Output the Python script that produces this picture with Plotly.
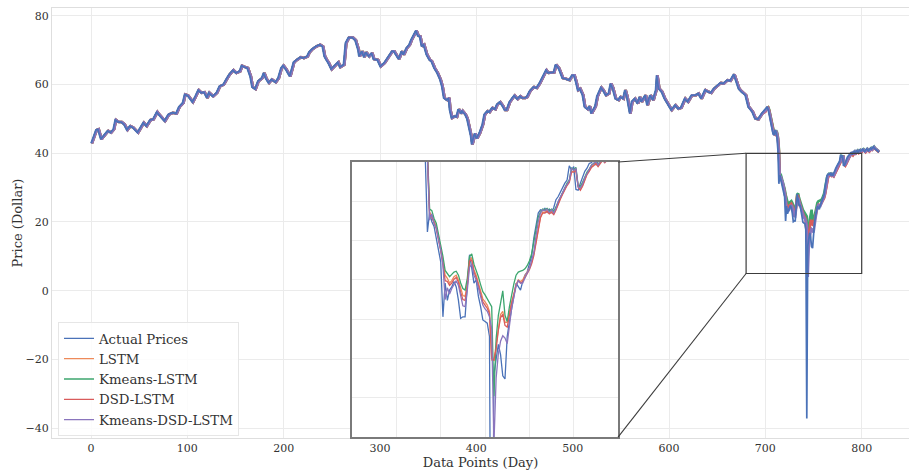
import plotly.graph_objects as go

# ---- observed daily prices before the zoomed window (day, price) ----
hist_days = [0, 2, 5, 7, 9, 10, 14, 17, 20, 23, 25, 28, 31, 34, 37, 40, 43, 48, 50, 54,
             57, 61, 64, 68, 69, 73, 76, 80, 84, 88, 91, 95, 97, 100, 102, 105, 108, 111, 114, 117,
             120, 122, 126, 130, 133, 137, 140, 143, 147, 150, 154, 156, 159, 162, 165, 167, 170, 173, 177, 179,
             181, 184, 187, 191, 194, 197, 199, 202, 206, 210, 213, 217, 220, 224, 226, 229, 233, 237, 240, 242,
             244, 246, 249, 252, 256, 258, 262, 264, 267, 271, 274, 277, 278, 281, 283, 285, 288, 291, 293, 297,
             300, 304, 307, 312, 314, 316, 319, 322, 324, 327, 330, 332, 335, 337, 339, 341, 343, 345, 348, 351,
             353, 356, 359, 362, 364, 366, 369, 371, 372, 374, 377, 379, 381, 384, 385, 388, 390, 392, 394, 395,
             398, 400, 403, 406, 408, 411, 413, 416, 419, 421, 424, 427, 429, 431, 434, 437, 439, 442, 445, 447,
             450, 452, 455, 459, 462, 465, 467, 470, 472, 474, 477, 480, 482, 485, 487, 489, 492, 496, 499, 501,
             503, 505, 507, 510, 512, 515, 517, 519, 523, 525, 529, 531, 534, 537, 539, 541, 544, 547, 549, 552,
             554, 556, 559, 561, 564, 567, 569, 571, 575, 577, 580, 583, 586, 587, 589, 592, 595, 599, 602, 606,
             609, 612, 616, 619, 623, 627, 630, 633, 637, 640, 643, 646, 649, 653, 656, 660, 663, 667, 669, 672,
             675, 679, 682, 686, 689, 692, 696]
hist_prices = [42.9, 44.6, 46.8, 47.0, 44.8, 44.1, 45.5, 46.5, 46.0, 47.0, 49.7, 49.1, 49.1, 48.4, 46.8, 47.9, 47.5, 46.0, 47.0, 48.9,
               47.9, 49.7, 49.9, 52.0, 51.6, 50.3, 49.4, 51.3, 51.8, 51.6, 53.5, 54.7, 57.1, 56.8, 56.1, 54.9, 56.6, 58.4, 57.6, 57.8,
               56.1, 57.6, 56.6, 57.6, 59.5, 60.0, 61.5, 62.9, 64.2, 63.4, 63.9, 65.5, 65.1, 64.8, 62.4, 59.3, 58.7, 61.0, 61.9, 63.4,
               61.9, 60.5, 61.5, 60.7, 61.9, 64.8, 65.5, 64.4, 62.4, 66.5, 67.2, 68.0, 67.7, 68.2, 69.4, 70.3, 71.1, 71.6, 71.1, 68.2,
               67.2, 66.3, 64.5, 65.3, 66.5, 65.1, 65.8, 72.1, 73.7, 73.7, 72.9, 70.1, 68.2, 69.7, 68.0, 69.4, 68.2, 69.2, 67.4, 67.2,
               65.3, 66.3, 67.7, 69.7, 69.7, 68.7, 67.4, 69.7, 68.7, 70.6, 71.6, 73.0, 74.5, 75.7, 74.2, 74.0, 71.1, 71.6, 68.7, 67.2,
               66.8, 64.8, 63.4, 61.5, 59.5, 56.1, 55.5, 56.1, 52.8, 50.3, 50.8, 50.6, 52.8, 51.6, 52.3, 51.3, 50.1, 47.9, 45.0, 42.6,
               45.8, 44.3, 46.0, 48.4, 51.3, 52.3, 52.0, 53.2, 52.8, 54.2, 54.9, 53.7, 52.6, 52.6, 54.9, 56.1, 56.8, 55.8, 56.6, 56.1,
               56.1, 56.4, 58.1, 59.3, 59.0, 60.3, 61.5, 62.9, 64.2, 63.4, 63.6, 63.6, 65.8, 64.8, 63.4, 61.9, 61.7, 61.3, 62.7, 62.7,
               60.8, 58.4, 58.8, 56.9, 53.5, 52.8, 53.7, 51.6, 53.7, 56.6, 59.1, 58.4, 56.9, 57.4, 60.3, 59.1, 55.9, 55.5, 56.4, 55.9,
               58.4, 56.4, 51.6, 55.0, 55.9, 54.5, 56.4, 55.0, 56.9, 54.0, 56.9, 55.5, 58.4, 62.7, 58.8, 57.9, 55.9, 54.0, 52.6, 54.0,
               53.0, 53.3, 55.9, 55.0, 56.9, 56.9, 57.4, 55.9, 58.4, 57.9, 57.6, 58.8, 59.5, 60.5, 60.3, 61.3, 61.1, 63.0, 61.3, 58.8,
               57.9, 56.9, 53.5, 52.1, 50.1, 49.9, 51.6]

# ---- zoomed window, one value per day ----
window_days = list(range(700, 819))
actual_window = [52.8, 53.3, 53.5, 52.6, 51.2, 49.6, 47.4, 46.5, 45.6, 45.3,
                 46.8, 46.1, 44.6, 41.0, 31.1, 33.6, 32.4, 31.8, 30.3, 29.0,
                 27.3, 20.3, 24.6, 22.4, 23.7, 24.1, 24.8, 24.1, 22.4, 20.1,
                 20.3, 20.3, 24.6, 28.2, 26.5, 24.6, 25.0, 22.9, 21.6, 19.9,
                 19.7, 19.5, 17.8, -37.2, 13.0, 15.0, 16.8, 15.5, 12.8, 12.4,
                 17.8, 19.7, 21.6, 22.9, 24.6, 24.1, 23.7, 24.8, 25.6, 26.0,
                 26.9, 28.0, 30.3, 32.2, 33.5, 33.9, 33.8, 34.1, 33.6, 34.0,
                 33.5, 34.2, 35.2, 35.6, 36.2, 36.8, 37.3, 37.7, 39.5, 39.0,
                 39.4, 36.5, 36.4, 37.3, 38.1, 38.8, 39.2, 39.8, 39.9, 40.3,
                 39.6, 40.2, 40.6, 40.1, 40.5, 40.8, 40.3, 40.7, 41.0, 40.6,
                 40.9, 41.2, 40.8, 40.5, 40.9, 41.3, 41.0, 40.7, 41.1, 41.5,
                 41.2, 41.6, 41.9, 41.5, 41.3, 41.0, 40.8, 40.5, 40.3]
lstm_window = [52.2, 52.8, 53.2, 53.3, 52.5, 51.2, 49.6, 47.6, 46.6, 45.8,
               45.5, 46.5, 46.0, 44.6, 41.2, 33.5, 33.2, 32.4, 31.8, 30.4,
               29.1, 27.4, 25.6, 25.2, 24.6, 24.9, 25.4, 25.6, 25.0, 23.8,
               23.0, 22.9, 24.5, 27.6, 27.8, 26.3, 25.6, 24.6, 23.6, 22.6,
               22.2, 21.8, 21.0, 14.8, 14.8, 16.8, 19.0, 20.6, 21.0, 19.6,
               19.6, 21.0, 22.2, 23.2, 24.4, 25.0, 24.8, 25.0, 25.6, 26.0,
               26.5, 27.2, 28.3, 30.0, 31.8, 33.0, 33.6, 33.6, 33.8, 33.5,
               33.7, 33.4, 34.0, 34.8, 35.4, 36.0, 36.6, 37.1, 37.5, 38.8,
               38.8, 39.0, 36.9, 36.5, 37.0, 37.8, 38.5, 38.9, 39.4, 39.6,
               39.9, 39.5, 39.9, 40.3, 40.0, 40.3, 40.6, 40.2, 40.5, 40.8,
               40.5, 40.7, 41.0, 40.7, 40.4, 40.7, 41.1, 40.9, 40.6, 40.9,
               41.3, 41.1, 41.4, 41.7, 41.4, 41.2, 40.9, 40.7, 40.4]
kmeans_lstm_window = [52.4, 52.9, 53.3, 53.4, 52.7, 51.4, 49.9, 47.9, 46.9, 46.1,
                      45.8, 46.7, 46.2, 44.9, 41.6, 34.0, 33.8, 32.8, 32.2, 30.9,
                      29.6, 28.0, 26.2, 25.8, 25.4, 25.7, 26.0, 26.1, 25.6, 24.6,
                      23.9, 23.7, 25.2, 28.0, 28.3, 27.0, 26.3, 25.4, 24.4, 23.5,
                      23.1, 22.6, 22.2, 21.6, 10.2, 17.5, 20.5, 22.0, 23.6, 20.5,
                      19.7, 21.6, 23.2, 24.5, 25.6, 26.0, 26.1, 26.2, 26.4, 26.8,
                      27.4, 28.3, 29.8, 31.6, 33.0, 33.6, 34.0, 33.9, 34.1, 33.8,
                      34.0, 33.7, 34.3, 35.1, 35.6, 36.2, 36.8, 37.3, 37.7, 39.2,
                      39.0, 39.3, 37.0, 36.9, 37.4, 38.1, 38.7, 39.1, 39.6, 39.8,
                      40.1, 39.7, 40.1, 40.5, 40.1, 40.5, 40.8, 40.4, 40.7, 41.0,
                      40.7, 40.9, 41.2, 40.9, 40.6, 40.9, 41.3, 41.0, 40.8, 41.1,
                      41.5, 41.2, 41.6, 41.9, 41.5, 41.3, 41.0, 40.8, 40.5]
dsd_lstm_window = [52.1, 52.7, 53.1, 53.2, 52.4, 51.0, 49.4, 47.4, 46.4, 45.6,
                   45.4, 46.4, 45.8, 44.3, 40.8, 33.1, 33.0, 32.2, 31.5, 30.1,
                   28.8, 27.0, 24.9, 24.8, 24.3, 24.6, 25.1, 25.3, 24.7, 23.4,
                   22.5, 22.4, 24.2, 27.4, 27.5, 26.0, 25.3, 24.3, 23.3, 22.2,
                   21.8, 21.4, 20.7, 15.0, 14.8, 16.2, 18.6, 20.2, 20.6, 19.2,
                   19.0, 20.6, 22.0, 23.1, 24.3, 24.9, 24.6, 24.8, 25.4, 25.8,
                   26.3, 27.0, 28.1, 29.8, 31.6, 32.9, 33.5, 33.5, 33.7, 33.4,
                   33.6, 33.3, 33.9, 34.7, 35.3, 35.9, 36.5, 37.0, 37.4, 38.7,
                   38.7, 38.9, 36.8, 36.4, 36.9, 37.7, 38.4, 38.8, 39.3, 39.5,
                   39.8, 39.4, 39.8, 40.2, 39.9, 40.2, 40.5, 40.1, 40.4, 40.7,
                   40.4, 40.6, 40.9, 40.6, 40.3, 40.6, 41.0, 40.8, 40.5, 40.8,
                   41.2, 41.0, 41.3, 41.6, 41.3, 41.1, 40.8, 40.6, 40.3]
kmeans_dsd_lstm_window = [52.3, 52.9, 53.3, 53.2, 52.3, 51.0, 49.3, 47.4, 46.4, 45.7,
                          45.6, 46.6, 45.9, 44.3, 40.5, 32.6, 33.4, 32.2, 31.6, 30.2,
                          28.8, 26.9, 22.5, 24.0, 23.2, 23.9, 24.5, 24.9, 24.3, 22.8,
                          21.7, 21.6, 23.7, 26.6, 27.0, 25.6, 25.0, 24.0, 22.9, 21.8,
                          21.3, 21.0, 20.3, 18.8, 4.0, 12.5, 15.6, 17.2, 17.9, 17.6,
                          16.9, 19.4, 21.4, 22.8, 24.2, 24.9, 24.6, 24.6, 25.3, 25.9,
                          26.4, 27.4, 28.5, 30.6, 32.4, 33.5, 33.9, 33.8, 34.0, 33.6,
                          33.9, 33.5, 34.1, 35.0, 35.5, 36.1, 36.7, 37.2, 37.6, 39.2,
                          38.9, 39.2, 36.8, 36.7, 37.2, 38.0, 38.6, 39.0, 39.6, 39.8,
                          40.1, 39.6, 40.1, 40.5, 40.0, 40.4, 40.7, 40.3, 40.6, 40.9,
                          40.6, 40.8, 41.1, 40.8, 40.5, 40.8, 41.2, 40.9, 40.7, 41.0,
                          41.4, 41.1, 41.5, 41.8, 41.5, 41.2, 41.0, 40.7, 40.5]

series_names = ["Actual Prices", "LSTM", "Kmeans-LSTM", "DSD-LSTM", "Kmeans-DSD-LSTM"]
series_colors = ["#4A72B8", "#EE8A5A", "#3DA66E", "#D95B5B", "#8A75BD"]
x_ticks = [0, 100, 200, 300, 400, 500, 600, 700, 800]
y_ticks = [-40, -20, 0, 20, 40, 60, 80]

FONT = "DejaVu Serif"
X_RANGE = [-40.5, 849.1]
Y_RANGE = [-42.9, 82.3]
ZOOM_X = [680, 800]
ZOOM_Y = [5, 40]
INSET_DOM_X = [0.3501, 0.6605]
INSET_DOM_Y = [0.002, 0.642]

window_sets = [actual_window, lstm_window, kmeans_lstm_window, dsd_lstm_window, kmeans_dsd_lstm_window]

fig = go.Figure()

# main panel: forecasts underneath, observed prices drawn over them
for name, color, win in list(zip(series_names, series_colors, window_sets))[1:]:
    # forecasts trail the observed price by one trading day
    xs = [d + 1 for d in hist_days] + window_days
    fig.add_trace(go.Scatter(x=xs, y=hist_prices + win, mode="lines", name=name,
                             line=dict(color=color, width=2.6), showlegend=False,
                             xaxis="x", yaxis="y"))
fig.add_trace(go.Scatter(x=hist_days + window_days, y=hist_prices + actual_window, mode="lines",
                         name=series_names[0], line=dict(color=series_colors[0], width=1.7),
                         showlegend=False, xaxis="x", yaxis="y"))

# inset panel (also supplies the legend entries)
for name, color, win in zip(series_names, series_colors, window_sets):
    fig.add_trace(go.Scatter(x=window_days, y=win, mode="lines", name=name,
                             line=dict(color=color, width=1.3),
                             showlegend=True, xaxis="x2", yaxis="y2"))

grid = "#ebebeb"
frame = "#dedede"

fig.update_layout(
    width=909, height=470,
    margin=dict(l=52, r=0, t=8, b=32),
    paper_bgcolor="white", plot_bgcolor="white",
    font=dict(family=FONT, size=11, color="#333333"),
    showlegend=True,
    xaxis=dict(range=X_RANGE, tickvals=x_ticks, showgrid=True, gridcolor=grid, gridwidth=1,
               zeroline=False, showline=True, mirror=True, linecolor=frame, linewidth=1,
               ticks="", automargin=False,
               title=dict(text="Data Points (Day)", font=dict(size=13, family=FONT), standoff=2)),
    yaxis=dict(range=Y_RANGE, tickvals=y_ticks, showgrid=True, gridcolor=grid, gridwidth=1,
               zeroline=False, showline=True, mirror=True, linecolor=frame, linewidth=1,
               ticks="", automargin=False,
               title=dict(text="Price (Dollar)", font=dict(size=13, family=FONT), standoff=0)),
    xaxis2=dict(domain=INSET_DOM_X, anchor="y2", range=ZOOM_X, tickvals=[700, 720, 740, 760, 780],
                showticklabels=False, showgrid=True, gridcolor=grid, zeroline=False,
                showline=True, mirror=True, linecolor="#7a7a7a", linewidth=1.5, ticks=""),
    yaxis2=dict(domain=INSET_DOM_Y, anchor="x2", range=ZOOM_Y, tickvals=[10, 15, 20, 25, 30, 35],
                showticklabels=False, showgrid=True, gridcolor=grid, zeroline=False,
                showline=True, mirror=True, linecolor="#7a7a7a", linewidth=1.5, ticks=""),
    legend=dict(x=0.007, y=0.004, xanchor="left", yanchor="bottom",
                bgcolor="rgba(255,255,255,0.85)", bordercolor="#e6e6e6", borderwidth=1,
                font=dict(size=13.3, family=FONT, color="#333333"), tracegroupgap=0),
)

# opaque backing for the inset so the main grid does not show through
fig.add_shape(type="rect", xref="x2", yref="y2", x0=ZOOM_X[0], x1=ZOOM_X[1], y0=ZOOM_Y[0], y1=ZOOM_Y[1],
              fillcolor="white", line=dict(width=0), layer="below")

# zoom region marker on the main axes
fig.add_shape(type="rect", xref="x", yref="y", x0=ZOOM_X[0], x1=ZOOM_X[1], y0=ZOOM_Y[0], y1=ZOOM_Y[1],
              line=dict(color="#3c3c3c", width=1.2), layer="above")

# connector lines from the inset corners to the marked region
xs_span = X_RANGE[1] - X_RANGE[0]
ys_span = Y_RANGE[1] - Y_RANGE[0]
inset_right = X_RANGE[0] + INSET_DOM_X[1] * xs_span
inset_top = Y_RANGE[0] + INSET_DOM_Y[1] * ys_span
inset_bottom = Y_RANGE[0] + INSET_DOM_Y[0] * ys_span
fig.add_shape(type="line", xref="x", yref="y", x0=inset_right, y0=inset_top, x1=ZOOM_X[0], y1=ZOOM_Y[1],
              line=dict(color="#3c3c3c", width=1.1), layer="above")
fig.add_shape(type="line", xref="x", yref="y", x0=inset_right, y0=inset_bottom, x1=ZOOM_X[0], y1=ZOOM_Y[0],
              line=dict(color="#3c3c3c", width=1.1), layer="above")

fig.write_html("out.html")
